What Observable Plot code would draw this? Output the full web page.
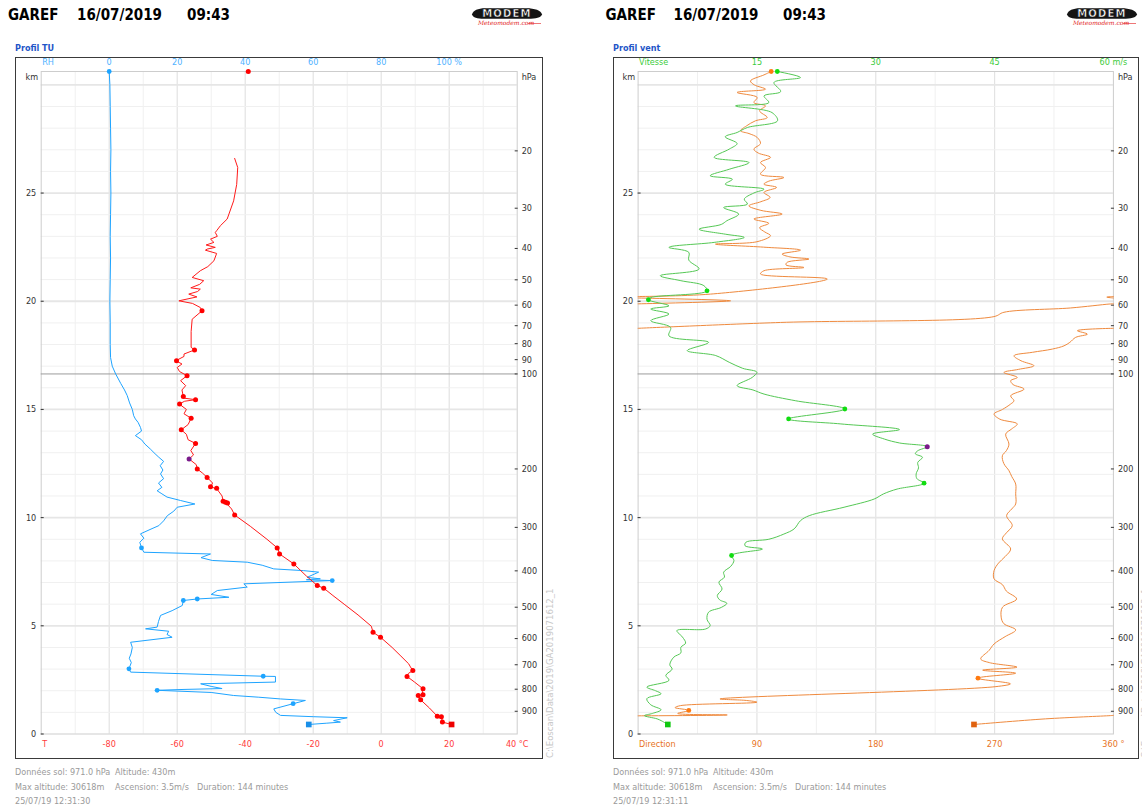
<!DOCTYPE html>
<html>
<head>
<meta charset="utf-8">
<script src="https://cdn.jsdelivr.net/npm/d3@7"></script>
<script src="https://cdn.jsdelivr.net/npm/@observablehq/plot@0.6"></script>
<style>
  html,body{margin:0;padding:0;background:#fff;}
  #page{position:relative;width:1142px;height:809px;overflow:hidden;font-family:"DejaVu Sans Condensed","DejaVu Sans",sans-serif;}
  .abs{position:absolute;white-space:pre;line-height:1;}
  .title{font-weight:bold;font-size:15px;color:#000;top:8px;}
  .sub{font-weight:bold;font-size:9px;color:#1f56c8;top:43.5px;}
  .frame{position:absolute;top:57px;height:702px;box-sizing:border-box;border:1.5px solid #3a3a3a;pointer-events:none;}
  .chart{position:absolute;top:57px;}
  .info{font-size:9px;color:#9a9a9a;}
  .path{font-size:9.5px;color:#c8c8c8;transform-origin:0 0;transform:rotate(-90deg);}
</style>
</head>
<body>
<div id="page"></div>
<script>
// ---------------- DATA ----------------
const station = "GAREF", launchDate = "16/07/2019", launchTime = "09:43";
const MAX_ALT_KM = 30.618;
const kmTicks = [0, 5, 10, 15, 20, 25];
const pressureLabels = [20, 30, 40, 50, 60, 70, 80, 90, 100, 200, 300, 400, 500, 600, 700, 800, 900];
const pressureAltKm  = [26.95, 24.3, 22.44, 20.99, 19.82, 18.87, 18.04, 17.3, 16.64, 12.25, 9.55, 7.54, 5.86, 4.41, 3.2, 2.07, 1.05];
const markedPressure = 100;

const tempTicks = [-80, -60, -40, -20, 0, 20, 40];
const rhTicks = [0, 20, 40, 60, 80, 100];
const speedTicks = [15, 30, 45, 60];
const dirTicks = [90, 180, 270, 360];

// temperature profile [km, °C]
const tempProfile = [
  [0.44,20.7],[0.55,18.0],[0.8,17.7],[0.82,16.5],[1.2,14.2],[1.58,11.6],[1.7,11.2],[1.78,10.9],[1.81,12.3],[1.95,12.1],
  [2.09,12.3],[2.4,9.8],[2.66,7.6],[2.8,8.0],[2.93,9.3],[3.1,8.6],[3.24,8.1],[3.6,5.8],[4.0,3.2],[4.47,-0.2],
  [4.7,-2.4],[4.98,-2.9],[5.5,-6.8],[6.0,-10.9],[6.4,-14.2],[6.74,-16.9],[6.86,-18.8],[7.3,-22.0],[7.86,-25.7],[8.32,-29.9],
  [8.58,-30.4],[9.0,-33.6],[9.6,-38.5],[10.12,-43.1],[10.4,-44.0],[10.71,-45.8],[10.76,-46.5],[11.0,-46.8],[11.32,-48.3],[11.43,-50.1],
  [11.6,-49.6],[11.86,-51.2],[12.05,-52.5],[12.25,-54.1],[12.45,-54.4],[12.71,-56.5],[12.9,-55.2],[13.1,-56.0],[13.43,-54.6],[13.6,-56.8],
  [13.85,-57.3],[14.06,-58.8],[14.3,-56.8],[14.59,-55.9],[14.8,-58.0],[15.0,-57.3],[15.25,-59.4],[15.38,-57.8],[15.45,-54.6],[15.52,-57.9],
  [15.6,-58.2],[15.9,-58.6],[16.1,-57.5],[16.33,-59.0],[16.56,-57.1],[16.75,-59.3],[16.94,-60.0],[17.1,-58.6],[17.25,-60.4],[17.45,-58.0],
  [17.56,-58.0],[17.75,-54.9],[17.87,-55.9],[18.6,-55.9],[19.17,-55.6],[19.56,-52.7],[19.71,-53.2],[19.9,-55.5],[20.02,-59.5],[20.2,-54.2],
  [20.33,-56.6],[20.45,-54.0],[20.56,-53.2],[20.62,-56.0],[20.78,-53.4],[20.95,-52.2],[21.1,-55.6],[21.41,-53.2],[21.6,-51.0],[21.87,-49.2],
  [22.21,-48.4],[22.36,-51.7],[22.41,-51.2],[22.49,-48.8],[22.6,-51.5],[22.72,-49.2],[22.87,-50.2],[23.0,-48.2],[23.18,-48.8],[23.26,-48.4],
  [23.49,-47.3],[23.8,-45.3],[24.64,-43.4],[25.4,-42.5],[26.18,-42.2],[26.6,-43.1]
];
const tempSigLevels = [
  [0.55,18.0],[0.8,17.7],[0.82,16.5],[1.58,11.6],[1.78,10.9],[1.81,12.3],[2.09,12.3],[2.66,7.6],[2.93,9.3],[4.47,-0.2],
  [4.7,-2.4],[6.74,-16.9],[6.86,-18.8],[7.86,-25.7],[8.32,-29.9],[8.6,-30.6],[10.12,-43.1],[10.68,-45.2],[10.71,-45.8],[10.76,-46.5],
  [11.36,-48.4],[11.43,-50.2],[11.86,-51.2],[12.25,-54.1],[13.43,-54.6],[14.06,-58.8],[14.59,-55.9],[15.25,-59.3],[15.45,-54.6],[15.6,-58.2],
  [16.56,-57.1],[17.25,-60.2],[17.75,-54.9],[19.56,-52.7],[MAX_ALT_KM,-39.1]
];
const tempGround = [[0.44,20.7]];
const tempTropopause = [[12.71,-56.5]];

// relative humidity profile [km, %]
const rhProfile = [
  [0.44,58.7],[0.5,64],[0.55,68.0],[0.62,66],[0.75,70.0],[0.8,60],[0.86,50.4],[1.0,49],[1.16,48.4],[1.4,54.1],
  [1.55,57.7],[1.62,50.4],[1.7,44],[1.78,36.6],[1.92,30],[2.02,14.1],[2.06,22],[2.1,33.2],[2.2,30],[2.32,26.9],
  [2.4,48.9],[2.66,48.9],[2.67,45.3],[2.86,6.3],[3.01,5.8],[3.3,6.5],[3.5,5.9],[3.7,6.4],[4.0,6.8],[4.24,6.3],
  [4.47,18.5],[4.6,17],[4.75,17.5],[4.86,10.7],[4.94,14.1],[5.2,14.5],[5.48,15.1],[5.7,18.5],[5.94,21.5],[6.17,21.8],
  [6.24,25.9],[6.32,35.2],[6.45,30],[6.63,31.8],[6.79,40.6],[6.94,39.6],[7.09,65.6],[7.13,58],[7.17,62.1],[7.24,58.2],
  [7.48,61.6],[7.55,57.2],[7.63,48.4],[7.8,45],[7.94,40.6],[8.02,30.3],[8.15,27],[8.32,29.8],[8.4,10.2],[8.6,9.5],
  [8.86,9.0],[9.05,10.2],[9.25,9.2],[9.45,12],[9.63,14.6],[9.85,16],[10.09,17.1],[10.3,19],[10.48,20.0],[10.63,25.2],
  [10.79,21.0],[10.95,17],[11.1,15.5],[11.24,14.1],[11.4,15.5],[11.6,14.5],[11.8,16],[12.02,15.1],[12.2,15.8],[12.4,15],
  [12.6,16],[12.79,14.6],[12.95,13.5],[13.17,12.1],[13.4,10.5],[13.6,9.5],[13.79,7.7],[14.0,9.5],[14.17,9.2],[14.4,8.5],
  [14.56,7.7],[14.71,7.2],[15.0,6.8],[15.3,6.0],[15.64,5.3],[15.9,4.5],[16.2,3.4],[16.64,1.9],[17.0,0.9],[17.4,0.4],
  [18.0,0.3],[19.0,0.3],[20.0,0.2],[21.0,0.3],[22.0,0.4],[23.0,0.3],[24.0,0.4],[25.0,0.5],[26.0,0.4],[27.0,0.5],
  [28.0,0.4],[29.0,0.3],[30.0,0.2],[MAX_ALT_KM,0]
];
const rhSigLevels = [[1.4,54.1],[2.02,14.1],[2.67,45.3],[3.01,5.8],[6.17,21.8],[6.24,25.9],[7.09,65.6],[8.6,9.5],[MAX_ALT_KM,0]];
const rhGround = [[0.44,58.7]];

// wind speed profile [km, m/s]
const windSpeedProfile = [
  [0.44,3.75],[0.6,3.0],[0.7,2.4],[0.85,0.8],[0.95,1.8],[1.12,2.9],[1.35,1.6],[1.63,1.1],[1.86,2.9],[2.0,2.2],
  [2.17,1.1],[2.48,3.9],[2.71,3.5],[3.0,4.3],[3.2,4.0],[3.55,4.5],[3.75,5.4],[4.01,5.4],[4.2,6.0],[4.48,5.6],
  [4.78,4.9],[4.85,8.5],[5.01,9.1],[5.3,8.7],[5.63,8.9],[5.85,10.5],[6.04,11.2],[6.2,10.3],[6.4,10.0],[6.7,10.6],
  [7.02,10.2],[7.25,10.9],[7.48,10.8],[7.75,11.7],[8.02,12.1],[8.25,11.8],[8.55,15.7],[8.7,13.5],[8.86,13.6],[9.0,16.5],
  [9.24,18.4],[9.48,19.7],[9.86,20.5],[10.09,21.6],[10.48,26.0],[10.86,29.8],[11.1,31.0],[11.32,32.7],[11.59,36.1],[11.8,35.2],
  [12.02,35.1],[12.3,35.4],[12.55,35.3],[12.79,35.9],[12.95,35.0],[13.09,35.3],[13.28,36.5],[13.45,33],[13.63,31.1],[13.86,29.6],
  [14.07,33.0],[14.33,25.6],[14.56,19.0],[15.02,26.1],[15.4,19.9],[15.71,15.9],[15.9,14.5],[16.1,12.5],[16.48,14.4],[16.72,15.0],
  [16.9,13.2],[17.18,11.5],[17.49,9.8],[17.72,6.2],[18.1,8.9],[18.4,3.9],[18.79,4.1],[19.1,1.6],[19.41,3.9],[19.64,1.6],
  [19.79,3.9],[20.07,1.3],[20.17,1.6],[20.48,8.7],[20.72,8.3],[20.95,5.4],[21.18,2.8],[21.49,7.7],[21.9,6.4],[22.26,6.4],
  [22.49,3.9],[22.72,9.6],[22.95,13.4],[23.1,11.0],[23.33,7.7],[23.55,10.5],[23.72,11.2],[24.03,12.7],[24.33,10.8],[24.49,13.8],
  [24.72,13.4],[25.0,14.6],[25.18,15.9],[25.41,11.0],[25.64,11.9],[25.8,9.1],[26.1,11.5],[26.41,14.0],[26.65,9.6],[27.03,11.5],
  [27.29,12.5],[27.6,11.0],[27.8,12.5],[28.03,13.8],[28.34,17.6],[28.72,16.9],[29.03,12.3],[29.18,16.5],[29.49,15.9],[29.69,18.0],
  [30.11,17.15],[30.34,20.5],[MAX_ALT_KM,17.57]
];
const speedSigLevels = [[8.25,11.8],[11.59,36.1],[14.56,19.0],[15.02,26.1],[20.07,1.3],[20.48,8.7],[MAX_ALT_KM,17.57]];
const speedGround = [[0.44,3.75]];
const speedMax = [[13.28,36.5]];

// wind direction profile [km, °]; null = line break where the direction wraps through north
const windDirProfile = [
  [0.44,254.4],[0.7,308.7],[0.85,357.9],[0.86,360],null,
  [0.84,0],[0.88,67.5],[0.95,30],[1.09,38.4],[1.22,28],[1.31,32],[1.47,90],[1.55,82],[1.62,62],[2.19,271],
  [2.32,282],[2.58,257.4],[2.81,286],[2.95,261],[3.09,287],[3.3,266],[3.47,259.5],[3.86,265.8],[4.16,269.6],[4.5,278],
  [4.81,286],[5.1,277],[5.4,275],[5.86,276],[6.24,286.7],[6.6,279],[6.9,276],[7.17,269.6],[7.55,269.6],[7.9,273],
  [8.2,278],[8.55,282.2],[9.02,275.9],[9.3,279],[9.63,283.4],[10.09,279.1],[10.4,283],[10.63,286],[11.1,286],[11.55,286],
  [11.9,283],[12.17,280.9],[12.5,277],[12.86,275.9],[13.1,279],[13.4,280.9],[13.86,278.4],[14.1,283],[14.33,287.2],[14.55,274],
  [14.79,269.6],[15.0,276],[15.25,282.2],[15.4,284.7],[15.63,282.2],[15.94,292.3],[16.15,284],[16.33,282.2],[16.48,287.2],[16.71,277.1],
  [16.85,288],[17.02,299.8],[17.25,290],[17.48,284.7],[17.64,298.6],[17.79,313.8],[17.94,322.6],[18.1,327],[18.33,331.4],[18.48,340.3],
  [18.64,332.7],[18.75,360],null,
  [18.75,0],[19.02,107.9],[19.29,269.5],[19.49,277.1],[19.69,327.6],[19.87,356.7],[19.88,360],null,
  [19.88,0],[20.02,70],[20.15,0],null,
  [20.15,360],[20.19,355],[20.22,360],null,
  [20.22,0],[20.33,54.8],[21.03,143.3],[21.26,92.7],[21.41,95.3],[21.56,125.6],[21.68,112],[21.8,112.9],[21.95,129.4],[22.05,115],
  [22.18,109.1],[22.36,123],[22.5,95],[22.64,58.6],[22.75,90],[23.03,100.3],[23.2,96],[23.4,92],[23.6,99],[23.8,87.7],
  [24.03,109.1],[24.2,93],[24.41,83.9],[24.6,93],[24.8,100],[25.03,95.3],[25.26,104.9],[25.41,95.3],[25.55,99],[25.72,110.4],
  [25.87,92.7],[26.18,96.5],[26.41,92.7],[26.65,100.3],[26.85,91],[27.03,87.7],[27.29,92.7],[27.57,90.2],[27.75,84],[27.88,77.6],
  [28.1,82],[28.34,88.9],[28.49,97.8],[28.8,92],[29.03,96.5],[29.18,87.7],[29.42,90.2],[29.65,75],[29.8,96.5],[30.0,88],
  [30.18,85.1],[30.46,95.3],[MAX_ALT_KM,100.8]
];
const dirSigLevels = [[1.09,38.4],[2.58,257.4],[MAX_ALT_KM,100.8]];
const dirGround = [[0.44,254.4]];

const infoLeft  = {ground: "Données sol: 971.0 hPa", alt: "Altitude: 430m", maxAlt: "Max altitude: 30618m", asc: "Ascension: 3.5m/s", dur: "Duration: 144 minutes", stamp: "25/07/19 12:31:30"};
const infoRight = {ground: "Données sol: 971.0 hPa", alt: "Altitude: 430m", maxAlt: "Max altitude: 30618m", asc: "Ascension: 3.5m/s", dur: "Duration: 144 minutes", stamp: "25/07/19 12:31:11"};
const filePath = "C:\\Eoscan\\Data\\2019\\GA2019071612_1";

// ---------------- STYLE ----------------
const FONT = '"DejaVu Sans Condensed","DejaVu Sans",sans-serif';
const RED = "#ff1a1a", BLUE = "#1ea4ff", GREEN = "#55c855", ORANGE = "#ef8a3e";
const RH_LABEL = "#4fb2ff", T_LABEL = "#ff3b3b", V_LABEL = "#3ccc3c", D_LABEL = "#e8731e";
const RH_ZERO_AT_T = -80;              // RH scale: 0 % sits on -80 °C, 1 % per 1 °C
const DEG_PER_MS = 360 / 60;           // speed scale: 60 m/s spans the full 360°

const toObj = (arr) => arr.map(p => p ? {z: p[0], v: p[1]} : {z: NaN, v: NaN});
const pressByAlt = new Map(pressureAltKm.map((a, i) => [a, pressureLabels[i]]));
const kmGrid = d3.range(1, 31);
const LBL = {fontSize: 9, lineAnchor: "middle"};

function commonMarks(vGridMinor, vGridMajor) {
  return [
    Plot.ruleX(vGridMinor, {stroke: "#f0f0f0", strokeWidth: 1}),
    Plot.ruleX(vGridMajor, {stroke: "#e3e3e3", strokeWidth: 1.2}),
    Plot.ruleY(kmGrid.filter(k => k % 5 !== 0), {stroke: "#f0f0f0", strokeWidth: 1}),
    Plot.ruleY(kmGrid.filter(k => k % 5 === 0), {stroke: "#e6e6e6", strokeWidth: 1.8}),
    Plot.frame({stroke: "#cdcdcd"}),
    Plot.ruleY([pressureAltKm[pressureLabels.indexOf(markedPressure)]], {stroke: "#9c9c9c", strokeWidth: 1}),
    Plot.axisY({anchor: "left", ticks: kmTicks, tickSize: 3, tickPadding: 5, dx: 3, fontSize: 9, color: "#333", label: null, tickFormat: d => String(d)}),
    Plot.axisY({anchor: "right", ticks: pressureAltKm, tickSize: 3, tickPadding: 4.5, dx: -3, fontSize: 9, color: "#333", label: null, tickFormat: d => String(pressByAlt.get(d))}),
    Plot.text(["km"], {...LBL, frameAnchor: "top-left", textAnchor: "end", dx: -3, dy: 6, fill: "#333"}),
    Plot.text(["hPa"], {...LBL, frameAnchor: "top-right", textAnchor: "start", dx: 4.5, dy: 6, fill: "#333"})
  ];
}

function leftChart() {
  const temp = toObj(tempProfile), rh = toObj(rhProfile);
  return Plot.plot({
    width: 528, height: 702,
    marginTop: 14, marginBottom: 25.5, marginLeft: 25.7, marginRight: 26.3,
    x: {domain: [-100, 40], axis: null},
    y: {domain: [0, MAX_ALT_KM]},
    style: {fontFamily: FONT, fontSize: "9px", background: "transparent", overflow: "visible"},
    marks: [
      ...commonMarks(d3.range(-90, 40, 20), d3.range(-80, 40, 20)),
      Plot.line(rh, {x: d => d.v + RH_ZERO_AT_T, y: "z", stroke: BLUE, strokeWidth: 1}),
      Plot.dot(toObj(rhSigLevels), {x: d => d.v + RH_ZERO_AT_T, y: "z", r: 2.4, fill: BLUE}),
      Plot.dot(toObj(rhGround), {x: d => d.v + RH_ZERO_AT_T, y: "z", r: 3.2, symbol: "square", fill: "#1a8fe8"}),
      Plot.line(temp, {x: "v", y: "z", stroke: RED, strokeWidth: 1}),
      Plot.dot(toObj(tempSigLevels), {x: "v", y: "z", r: 2.5, fill: "#ff0000"}),
      Plot.dot(toObj(tempGround), {x: "v", y: "z", r: 3.2, symbol: "square", fill: "#ee0000"}),
      Plot.dot(toObj(tempTropopause), {x: "v", y: "z", r: 2.5, fill: "#7a1a8a"}),
      // top (RH) scale labels
      Plot.text(["RH"], {...LBL, frameAnchor: "top-left", textAnchor: "start", dx: 1, dy: -9, fill: RH_LABEL}),
      Plot.text(rhTicks, {...LBL, x: d => d + RH_ZERO_AT_T, text: (d, i) => i === rhTicks.length - 1 ? `${d} %` : String(d), frameAnchor: "top", dy: -9, fill: RH_LABEL}),
      // bottom (T) scale labels
      Plot.text(["T"], {...LBL, frameAnchor: "bottom-left", textAnchor: "start", dx: 1, dy: 10.5, fill: T_LABEL}),
      Plot.text(tempTicks, {...LBL, x: d => d, text: (d, i) => i === tempTicks.length - 1 ? `${d} °C` : String(d), frameAnchor: "bottom", dy: 10.5, fill: T_LABEL})
    ]
  });
}

function rightChart() {
  const spd = toObj(windSpeedProfile), dir = toObj(windDirProfile);
  return Plot.plot({
    width: 526, height: 702,
    marginTop: 14, marginBottom: 25.5, marginLeft: 24.6, marginRight: 26.1,
    x: {domain: [0, 360], axis: null},
    y: {domain: [0, MAX_ALT_KM]},
    style: {fontFamily: FONT, fontSize: "9px", background: "transparent", overflow: "visible"},
    marks: [
      ...commonMarks(d3.range(45, 360, 90), d3.range(90, 360, 90)),
      Plot.line(dir, {x: "v", y: "z", stroke: ORANGE, strokeWidth: 1, curve: "catmull-rom"}),
      Plot.line(spd, {x: d => d.v * DEG_PER_MS, y: "z", stroke: GREEN, strokeWidth: 1, curve: "catmull-rom"}),
      Plot.dot(toObj(dirSigLevels), {x: "v", y: "z", r: 2.4, fill: "#ff7a10"}),
      Plot.dot(toObj(dirGround), {x: "v", y: "z", r: 3.2, symbol: "square", fill: "#e0620f"}),
      Plot.dot(toObj(speedSigLevels), {x: d => d.v * DEG_PER_MS, y: "z", r: 2.4, fill: "#11dd11"}),
      Plot.dot(toObj(speedGround), {x: d => d.v * DEG_PER_MS, y: "z", r: 3.2, symbol: "square", fill: "#10c810"}),
      Plot.dot(toObj(speedMax), {x: d => d.v * DEG_PER_MS, y: "z", r: 2.5, fill: "#7a1a8a"}),
      Plot.text(["Vitesse"], {...LBL, frameAnchor: "top-left", textAnchor: "start", dx: 1, dy: -9, fill: V_LABEL}),
      Plot.text(speedTicks, {...LBL, x: d => d * DEG_PER_MS, text: (d, i) => i === speedTicks.length - 1 ? `${d} m/s` : String(d), frameAnchor: "top", dy: -9, fill: V_LABEL}),
      Plot.text(["Direction"], {...LBL, frameAnchor: "bottom-left", textAnchor: "start", dx: 1, dy: 10.5, fill: D_LABEL}),
      Plot.text(dirTicks, {...LBL, x: d => d, text: (d, i) => i === dirTicks.length - 1 ? `${d} °` : String(d), frameAnchor: "bottom", dy: 10.5, fill: D_LABEL})
    ]
  });
}

// ---------------- LAYOUT ----------------
const page = document.getElementById("page");
function addDiv(cls, left, top, text, extra) {
  const d = document.createElement("div");
  d.className = "abs " + cls;
  d.style.left = left + "px";
  if (top !== null) d.style.top = top + "px";
  d.textContent = text;
  if (extra) Object.assign(d.style, extra);
  page.appendChild(d);
  return d;
}
function logo(left) {
  const ns = "http://www.w3.org/2000/svg";
  const s = document.createElementNS(ns, "svg");
  s.setAttribute("width", 74); s.setAttribute("height", 20);
  s.style.position = "absolute"; s.style.left = left + "px"; s.style.top = "6px";
  s.innerHTML = `<path d="M2 8.5 C3 4.5 8 2.3 15 2.3 L56 2.3 C65 2.3 71 4.5 72 8.5 C71 11.5 66 12.8 58 12.8 L14 12.8 C7 12.8 3 11.5 2 8.5Z" fill="#141414"/>
    <text x="37" y="11.4" text-anchor="middle" font-family="DejaVu Sans" font-weight="bold" font-size="10" letter-spacing="1.2" fill="#fff" stroke="#141414" stroke-width="0.5">MODEM</text>
    <text x="36" y="18.8" text-anchor="middle" font-family="DejaVu Serif" font-style="italic" font-size="6" fill="#e21b1b">Meteomodem.com</text>
    <line x1="58" y1="17.5" x2="71" y2="17.5" stroke="#e21b1b" stroke-width="0.6"/>`;
  page.appendChild(s);
}
function panel(frameLeft, frameWidth, titleX, subtitle, chart, info, logoX, pathX) {
  addDiv("title", titleX[0], null, station);
  addDiv("title", titleX[1], null, launchDate);
  addDiv("title", titleX[2], null, launchTime);
  logo(logoX);
  addDiv("sub", frameLeft, null, subtitle);
  const c = document.createElement("div");
  c.className = "chart"; c.style.left = frameLeft + "px";
  c.appendChild(chart);
  page.appendChild(c);
  const f = document.createElement("div");
  f.className = "frame"; f.style.left = frameLeft + "px"; f.style.width = frameWidth + "px";
  page.appendChild(f);
  addDiv("info", frameLeft, 767.5, info.ground);
  addDiv("info", frameLeft + 100, 767.5, info.alt);
  addDiv("info", frameLeft, 782.5, info.maxAlt);
  addDiv("info", frameLeft + 100, 782.5, info.asc);
  addDiv("info", frameLeft + 182, 782.5, info.dur);
  addDiv("info", frameLeft, 796.5, info.stamp);
  addDiv("path", pathX, 758, filePath);
}

panel(15, 528, [8, 77, 187], "Profil TU", leftChart(), infoLeft, 470, 544.5);
panel(613, 526, [605.5, 673.5, 783], "Profil vent", rightChart(), infoRight, 1065, 1140);
</script>
</body>
</html>
